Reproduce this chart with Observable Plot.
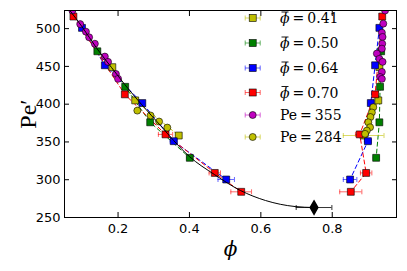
<!DOCTYPE html>
<html><head><meta charset="utf-8">
<script src="https://cdn.jsdelivr.net/npm/d3@7"></script>
<script src="https://cdn.jsdelivr.net/npm/@observablehq/plot@0.6"></script>
<style>
body{margin:0;background:#fff}
#chart{width:407px;height:271px}
#chart svg{font-family:"DejaVu Sans",sans-serif;}
g[aria-label="x-axis tick label"] text, g[aria-label="y-axis tick label"] text{font-size:13px;fill:#000}
g[aria-label="x-axis label"] text{font-family:"DejaVu Serif",serif;font-style:italic;font-size:20px;fill:#000}
g[aria-label="y-axis label"] text{font-family:"Liberation Serif",serif;font-size:24px;fill:#000}
</style>
</head><body><div id="chart"></div>
<script>
const xTicks = [0.2, 0.4, 0.6, 0.8];
const yTicks = [250, 300, 350, 400, 450, 500];

// phi-bar = 0.41 (olive squares)
const pe041 = [449, 405, 358.5];
const phiLo041 = [0.184, 0.248, 0.370];
const phiHi041 = [0.932, 0.929, 0.888];
const errLo041 = [0.004, 0.006, 0.008];
const errHi041 = [0.004, 0.006, 0.057];

// phi-bar = 0.50 (green squares)
const pe050 = [470, 423, 376, 329];
const phiLo050 = [0.142, 0.220, 0.290, 0.401];
const phiHi050 = [0.937, 0.934, 0.932, 0.923];
const errLo050 = [0.003, 0.004, 0.006, 0.008];
const errHi050 = [0.003, 0.004, 0.006, 0.008];

// phi-bar = 0.64 (blue squares)
const pe064 = [501, 451.5, 401.5, 351, 300.3];
const phiLo064 = [0.099, 0.163, 0.268, 0.356, 0.503];
const phiHi064 = [0.932, 0.920, 0.908, 0.900, 0.850];
const errLo064 = [0.004, 0.005, 0.006, 0.010, 0.023];
const errHi064 = [0.005, 0.007, 0.008, 0.010, 0.019];

// phi-bar = 0.70 (red squares)
const pe070 = [516, 413, 360, 309, 284];
const phiLo070 = [0.075, 0.219, 0.333, 0.471, 0.545];
const phiHi070 = [0.940, 0.920, 0.877, 0.895, 0.852];
const errLo070 = [0.004, 0.005, 0.020, 0.016, 0.029];
const errHi070 = [0.004, 0.006, 0.012, 0.016, 0.031];

// Pe = 355 (magenta circles)
const peM355Lo = [524, 506, 496, 488.5, 480, 463, 456, 440, 433.5];
const phiM355Lo = [0.072, 0.094, 0.110, 0.119, 0.135, 0.163, 0.172, 0.194, 0.200];
const peM355Hi = [524, 506.6, 494.7, 489, 480, 473.5, 467, 460, 456, 442.7, 436, 433.5];
const phiM355Hi = [0.948, 0.943, 0.939, 0.941, 0.940, 0.939, 0.925, 0.932, 0.941, 0.939, 0.934, 0.939];
const errM355 = 0.003;

// Pe = 284 (olive circles)
const peY284Lo = [391.5, 385, 377, 369];
const phiY284Lo = [0.254, 0.291, 0.315, 0.338];
const peY284Hi = [396, 389, 383, 376, 369.4, 365, 360.7];
const phiY284Hi = [0.915, 0.911, 0.907, 0.901, 0.906, 0.897, 0.892];
const errY284 = 0.005;

// black binodal curve and critical point
const curvePhi = [0.065, 0.099, 0.141, 0.182, 0.219, 0.266, 0.319, 0.356, 0.400, 0.470, 0.543, 0.613, 0.696, 0.749];
const curvePe  = [524, 502.6, 473.5, 448.4, 425.9, 399.5, 371.7, 351.8, 330.7, 306.9, 285.7, 272.5, 264.5, 263.2];
const critPhi = [0.749];
const critPe = [263.2];
const critErr = [0.050];

const legendLabels = ["0.41", "0.50", "0.64", "0.70", "355", "284"];
const colors = {y: "#bfbf00", g: "#008000", b: "#0000ff", r: "#ff0000", m: "#bf00bf"};

const squareSeries = [
  {key: "0.41", color: colors.y, pe: pe041, lo: phiLo041, hi: phiHi041, elo: errLo041, ehi: errHi041},
  {key: "0.50", color: colors.g, pe: pe050, lo: phiLo050, hi: phiHi050, elo: errLo050, ehi: errHi050},
  {key: "0.64", color: colors.b, pe: pe064, lo: phiLo064, hi: phiHi064, elo: errLo064, ehi: errHi064},
  {key: "0.70", color: colors.r, pe: pe070, lo: phiLo070, hi: phiHi070, elo: errLo070, ehi: errHi070}
];
const sqRows = [];
for (const s of squareSeries) {
  s.pe.forEach((p, i) => sqRows.push({z: s.key + "lo", color: s.color, pe: p, phi: s.lo[i], err: s.elo[i]}));
  s.pe.forEach((p, i) => sqRows.push({z: s.key + "hi", color: s.color, pe: p, phi: s.hi[i], err: s.ehi[i]}));
}
const circRows = [];
peM355Lo.forEach((p, i) => circRows.push({color: colors.m, pe: p, phi: phiM355Lo[i], err: errM355}));
peM355Hi.forEach((p, i) => circRows.push({color: colors.m, pe: p, phi: phiM355Hi[i], err: errM355}));
peY284Lo.forEach((p, i) => circRows.push({color: colors.y, pe: p, phi: phiY284Lo[i], err: errY284}));
peY284Hi.forEach((p, i) => circRows.push({color: colors.y, pe: p, phi: phiY284Hi[i], err: errY284}));
const curve = curvePhi.map((x, i) => ({phi: x, pe: curvePe[i]}));
const crit = critPhi.map((x, i) => ({phi: x, pe: critPe[i], err: critErr[i], color: "#000"}));

const capSymbol = {draw(ctx, size) { const h = Math.sqrt(size / Math.PI); ctx.moveTo(0, -h); ctx.lineTo(0, h); }};

function errMarks(rows, opacity) {
  return [
    Plot.ruleY(rows, {y: "pe", x1: d => d.phi - d.err, x2: d => d.phi + d.err, stroke: "color", strokeOpacity: opacity, strokeWidth: 1, clip: true}),
    Plot.dot(rows, {x: d => d.phi - d.err, y: "pe", symbol: capSymbol, r: 2.5, stroke: "color", fill: "none", strokeOpacity: opacity, strokeWidth: 1, clip: true}),
    Plot.dot(rows, {x: d => d.phi + d.err, y: "pe", symbol: capSymbol, r: 2.5, stroke: "color", fill: "none", strokeOpacity: opacity, strokeWidth: 1, clip: true})
  ];
}

const chart = Plot.plot({
  width: 407, height: 271,
  marginLeft: 64, marginRight: 11, marginTop: 10, marginBottom: 54,
  x: {domain: [0.05, 0.98]},
  y: {domain: [250, 524]},
  color: {type: "identity"},
  marks: [
    Plot.line(sqRows, {x: "phi", y: "pe", z: "z", stroke: "color", strokeWidth: 1, strokeDasharray: "4,3", clip: true}),
    ...errMarks(sqRows, 0.6),
    Plot.dot(sqRows, {x: "phi", y: "pe", symbol: "square", r: 3.9, fill: "color", stroke: "black", strokeWidth: 0.6, clip: true}),
    ...errMarks(circRows, 0.6),
    Plot.dot(circRows, {x: "phi", y: "pe", symbol: "circle", r: 3.5, fill: "color", stroke: "black", strokeWidth: 0.6, clip: true}),
    Plot.line(curve, {x: "phi", y: "pe", curve: "monotone-x", stroke: "black", strokeWidth: 1, clip: true}),
    ...errMarks(crit, 0.8),
    Plot.dot(crit, {x: "phi", y: "pe", symbol: "diamond", r: 4, fill: "black", stroke: "black"}),
    Plot.frame({stroke: "black", strokeWidth: 1}),
    Plot.axisX({anchor: "bottom", ticks: xTicks, tickFormat: d3.format(".1f"), tickSize: -5, tickPadding: 11, label: "ϕ", labelAnchor: "center", labelArrow: "none", labelOffset: 38}),
    Plot.axisX({anchor: "top", ticks: xTicks, tickFormat: () => "", tickSize: -5, label: null}),
    Plot.axisY({anchor: "left", ticks: yTicks, tickSize: -5, tickPadding: 9, label: "Pe′", labelAnchor: "center", labelArrow: "none", labelOffset: 46}),
    Plot.axisY({anchor: "right", ticks: yTicks, tickFormat: () => "", tickSize: -5, label: null})
  ]
});
document.getElementById("chart").appendChild(chart);

// legend
const svg = d3.select(chart);
const lg = svg.append("g").attr("aria-label", "legend").attr("text-anchor", "start");
const legendEntries = [
  {color: colors.y, shape: "square", phiBar: true},
  {color: colors.g, shape: "square", phiBar: true},
  {color: colors.b, shape: "square", phiBar: true},
  {color: colors.r, shape: "square", phiBar: true},
  {color: colors.m, shape: "circle", phiBar: false},
  {color: colors.y, shape: "circle", phiBar: false}
];
const rowY = [18, 43, 68, 92.5, 115, 137];
const mx = 252.7;
legendEntries.forEach((e, i) => {
  const y = rowY[i];
  const g = lg.append("g");
  g.append("line").attr("x1", mx - 7.5).attr("x2", mx + 7.5).attr("y1", y).attr("y2", y).attr("stroke", e.color).attr("stroke-opacity", 0.6);
  for (const cx of [mx - 7.5, mx + 7.5]) g.append("line").attr("x1", cx).attr("x2", cx).attr("y1", y - 2.5).attr("y2", y + 2.5).attr("stroke", e.color).attr("stroke-opacity", 0.6);
  if (e.shape === "square") g.append("rect").attr("x", mx - 3.5).attr("y", y - 3.5).attr("width", 7).attr("height", 7).attr("fill", e.color).attr("stroke", "black").attr("stroke-width", 0.6);
  else g.append("circle").attr("cx", mx).attr("cy", y).attr("r", 3.5).attr("fill", e.color).attr("stroke", "black").attr("stroke-width", 0.6);
  const t = g.append("text").attr("x", 280).attr("y", y + 5).attr("text-anchor", "start").attr("font-family", "DejaVu Serif, serif").attr("font-size", 14).attr("fill", "black");
  if (e.phiBar) {
    t.append("tspan").attr("font-style", "italic").text("ϕ");
    t.append("tspan").attr("dx", 3).text("=");
    t.append("tspan").attr("dx", 3).text(legendLabels[i]);
    g.append("line").attr("x1", 281.5).attr("x2", 288.5).attr("y1", y - 6).attr("y2", y - 6).attr("stroke", "black").attr("stroke-width", 0.9);
  } else {
    t.append("tspan").text("Pe");
    t.append("tspan").attr("dx", 3).text("=");
    t.append("tspan").attr("dx", 3).text(legendLabels[i]);
  }
});
</script>
</body></html>
